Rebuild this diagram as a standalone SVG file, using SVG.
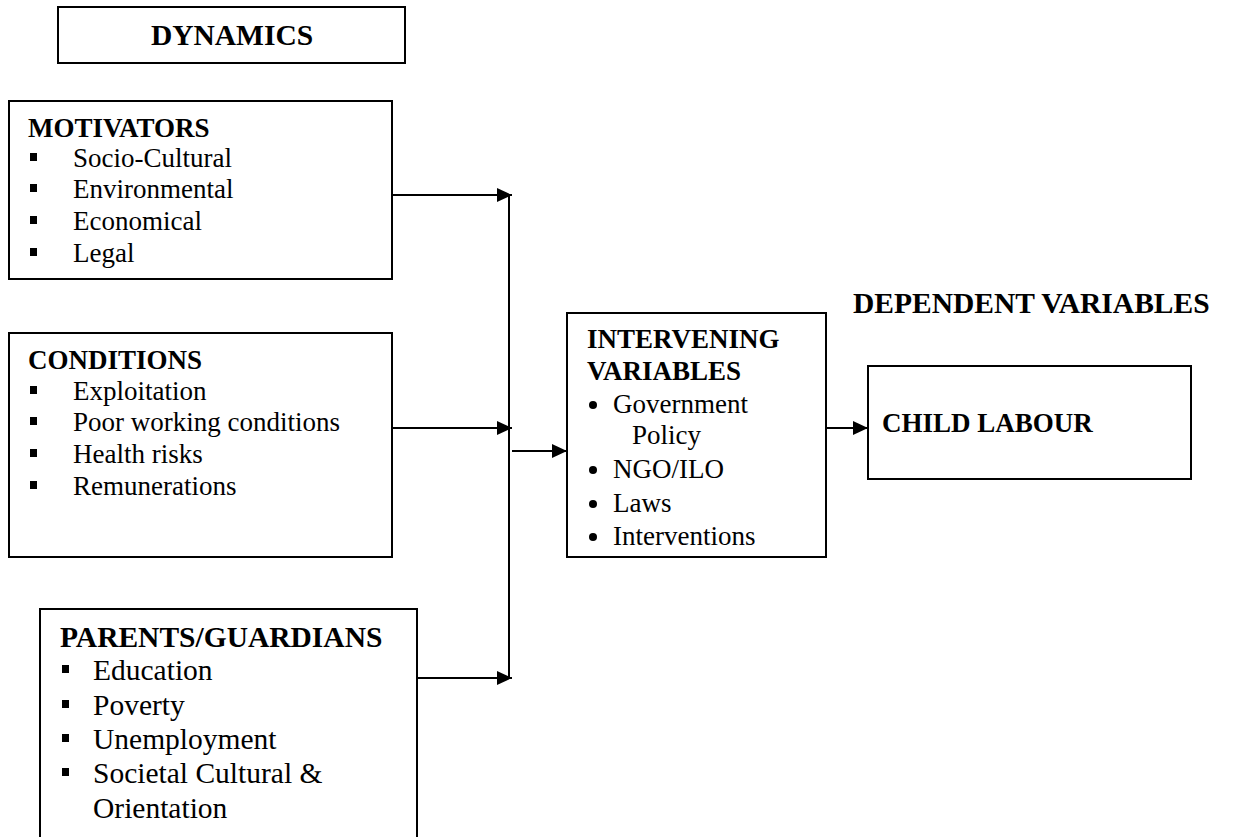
<svg xmlns="http://www.w3.org/2000/svg" width="1238" height="837" viewBox="0 0 1238 837">
<defs>
<marker id="ah" markerUnits="userSpaceOnUse" markerWidth="16" markerHeight="15" refX="15" refY="7" orient="auto">
<path d="M0,0 L15,7 L0,14 z" fill="#000"/>
</marker>
<style>
.box{fill:#fff;stroke:#000;stroke-width:2}
.t{font-family:"Liberation Serif","Times New Roman",serif;fill:#000}
.b{font-weight:bold}
.s27{font-size:27px}
.s29{font-size:29.5px}
.sq{fill:#000}
.ln{stroke:#000;stroke-width:2;fill:none}
.ar{stroke:#000;stroke-width:2;fill:none;marker-end:url(#ah)}
</style>
</defs>
<rect width="1238" height="837" fill="#fff"/>

<g id="dynamics">
<rect class="box" x="58" y="7" width="347" height="56"/>
<text class="t b s29" x="232" y="45" text-anchor="middle">DYNAMICS</text>
</g>

<g id="motivators">
<rect class="box" x="9" y="101" width="383" height="178"/>
<text class="t b s27" x="28" y="137">MOTIVATORS</text>
<rect class="sq" x="30" y="153" width="7" height="8"/>
<text class="t s27" x="73" y="167">Socio-Cultural</text>
<rect class="sq" x="30" y="184" width="7" height="8"/>
<text class="t s27" x="73" y="198">Environmental</text>
<rect class="sq" x="30" y="216" width="7" height="8"/>
<text class="t s27" x="73" y="230">Economical</text>
<rect class="sq" x="30" y="248" width="7" height="8"/>
<text class="t s27" x="73" y="262">Legal</text>
</g>

<g id="conditions">
<rect class="box" x="9" y="333" width="383" height="224"/>
<text class="t b s27" x="28" y="369">CONDITIONS</text>
<rect class="sq" x="30" y="386" width="7" height="8"/>
<text class="t s27" x="73" y="400">Exploitation</text>
<rect class="sq" x="30" y="417" width="7" height="8"/>
<text class="t s27" x="73" y="431">Poor working conditions</text>
<rect class="sq" x="30" y="449" width="7" height="8"/>
<text class="t s27" x="73" y="463">Health risks</text>
<rect class="sq" x="30" y="481" width="7" height="8"/>
<text class="t s27" x="73" y="495">Remunerations</text>
</g>

<g id="parents">
<rect class="box" x="40" y="609" width="377" height="240"/>
<text class="t b s29" x="60" y="647">PARENTS/GUARDIANS</text>
<rect class="sq" x="62" y="665" width="7" height="8"/>
<text class="t s29" x="93" y="680">Education</text>
<rect class="sq" x="62" y="700" width="7" height="8"/>
<text class="t s29" x="93" y="715">Poverty</text>
<rect class="sq" x="62" y="734" width="7" height="8"/>
<text class="t s29" x="93" y="749">Unemployment</text>
<rect class="sq" x="62" y="768" width="7" height="8"/>
<text class="t s29" x="93" y="783">Societal Cultural &amp;</text>
<text class="t s29" x="93" y="818">Orientation</text>
</g>

<g id="intervening">
<rect class="box" x="567" y="313" width="259" height="244"/>
<text class="t b s27" x="587" y="348">INTERVENING</text>
<text class="t b s27" x="587" y="380">VARIABLES</text>
<circle cx="593" cy="405" r="4"/>
<text class="t s27" x="613" y="413">Government</text>
<text class="t s27" x="632" y="444">Policy</text>
<circle cx="593" cy="470" r="4"/>
<text class="t s27" x="613" y="478">NGO/ILO</text>
<circle cx="593" cy="504" r="4"/>
<text class="t s27" x="613" y="512">Laws</text>
<circle cx="593" cy="537" r="4"/>
<text class="t s27" x="613" y="545">Interventions</text>
</g>

<g id="dependent-label">
<text class="t b s29" x="853" y="313">DEPENDENT VARIABLES</text>
</g>

<g id="child-labour">
<rect class="box" x="868" y="366" width="323" height="113"/>
<text class="t b s27" x="882" y="432">CHILD LABOUR</text>
</g>

<g id="connectors">
<line class="ar" x1="392" y1="195" x2="512" y2="195"/>
<line class="ar" x1="392" y1="428" x2="512" y2="428"/>
<line class="ar" x1="417" y1="678" x2="512" y2="678"/>
<line class="ln" x1="509" y1="195" x2="509" y2="678"/>
<line class="ar" x1="512" y1="451" x2="567" y2="451"/>
<line class="ar" x1="826" y1="428" x2="868" y2="428"/>
</g>
</svg>
